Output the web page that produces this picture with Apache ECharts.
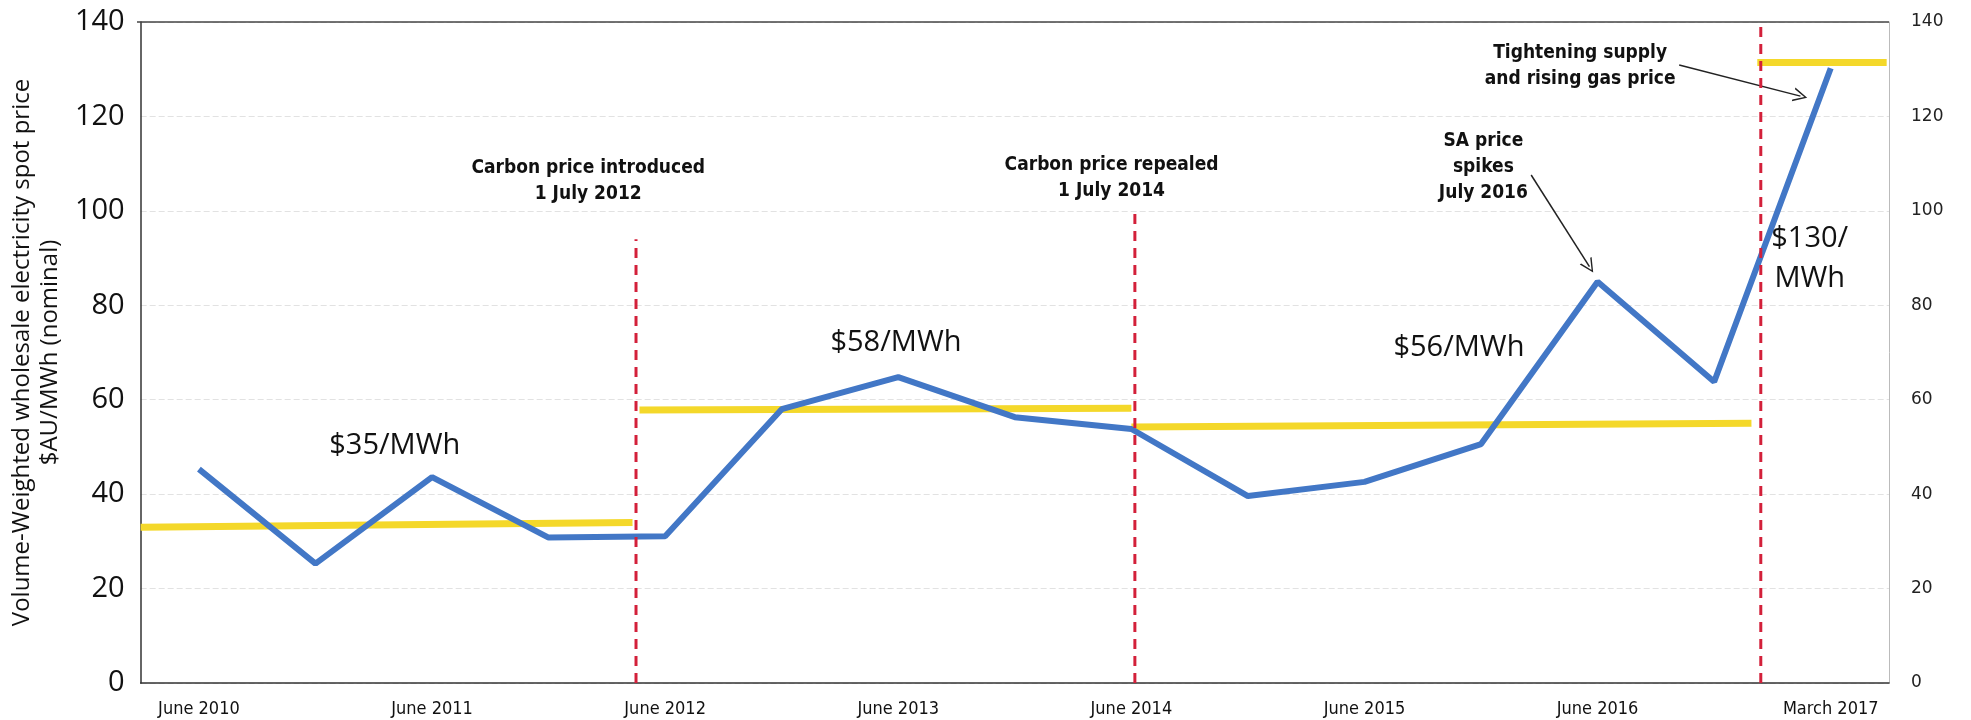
<!DOCTYPE html>
<html>
<head>
<meta charset="utf-8">
<script src="https://cdn.jsdelivr.net/npm/echarts@6/dist/echarts.min.js"></script>
<style>
  html, body { margin: 0; padding: 0; background: #fff; }
  #chart { width: 1971px; height: 720px; }
</style>
</head>
<body>
<div id="chart"></div>
<script>
// half-yearly points, last one is March 2017
const categories = ['June 2010', 'Dec 2010', 'June 2011', 'Dec 2011', 'June 2012', 'Dec 2012', 'June 2013',
  'Dec 2013', 'June 2014', 'Dec 2014', 'June 2015', 'Dec 2015', 'June 2016', 'Dec 2016', 'March 2017'];
const spotPrice = [45.3, 25.3, 43.6, 30.8, 31.1, 58.0, 64.8, 56.3, 53.8, 39.6, 42.6, 50.6, 85.0, 63.8, 130.2];

// period averages (yellow), x in category units on the hidden value axis
const avgStartX = [0, 4.28, 8.5, 13.87];
const avgEndX = [4.22, 8.5, 13.82, 14.98];
const avgStartValue = [33.0, 57.8, 54.2, 131.4];
const avgEndValue = [34.0, 58.2, 55.0, 131.4];

// red dashed event markers
const eventX = [4.25, 8.53, 13.9];
const eventTop = [94, 100, 140];

const priceLabels = ['$35/MWh', '$58/MWh', '$56/MWh', '$130/\nMWh'];
const priceLabelX = [2.18, 6.48, 11.31, 14.32];
const priceLabelY = [50.2, 72, 71, 89.8];

const eventLabels = ['Carbon price introduced\n1 July 2012', 'Carbon price repealed\n1 July 2014',
  'SA price\nspikes\nJuly 2016', 'Tightening supply\nand rising gas price'];
const eventLabelX = [3.84, 8.33, 11.52, 12.35];
const eventLabelY = [106.4, 107.0, 109.2, 130.6];

// arrows: [fromX, fromY, toX, toY]
const arrows = [[11.93, 107.6, 12.43, 88.2], [13.2, 130.9, 14.24, 124.3]];

const chart = echarts.init(document.getElementById('chart'));

const series = [];
series.push({
  type: 'line',
  data: spotPrice,
  xAxisIndex: 0,
  yAxisIndex: 0,
  symbol: 'none',
  lineStyle: { color: '#4277c6', width: 6 },
  z: 4
});
avgStartX.forEach((x, i) => {
  series.push({
    type: 'line',
    xAxisIndex: 1,
    yAxisIndex: 0,
    data: [[x, avgStartValue[i]], [avgEndX[i], avgEndValue[i]]],
    symbol: 'none',
    lineStyle: { color: '#f4d82a', width: 7 },
    z: 3
  });
});
eventX.forEach((x, i) => {
  series.push({
    type: 'line',
    xAxisIndex: 1,
    yAxisIndex: 0,
    data: [[x, 0], [x, eventTop[i]]],
    symbol: 'none',
    lineStyle: { color: '#d3203a', width: 3, type: [10, 7] },
    z: 5
  });
});
series.push({
  type: 'scatter',
  xAxisIndex: 1,
  yAxisIndex: 0,
  symbolSize: 0,
  itemStyle: { opacity: 1 },
  data: priceLabels.map((t, i) => ({ name: t, value: [priceLabelX[i], priceLabelY[i]] })),
  label: {
    show: true,
    position: 'inside',
    formatter: p => p.name,
    fontFamily: 'Open Sans',
    fontSize: 29,
    lineHeight: 40,
    color: '#111',
    opacity: 1,
    textBorderWidth: 0
  },
  z: 6
});
series.push({
  type: 'scatter',
  xAxisIndex: 1,
  yAxisIndex: 0,
  symbolSize: 0,
  itemStyle: { opacity: 1 },
  data: eventLabels.map((t, i) => ({ name: t, value: [eventLabelX[i], eventLabelY[i]] })),
  label: {
    show: true,
    position: 'inside',
    formatter: p => p.name,
    fontFamily: 'Liberation Sans Narrow, DejaVu Sans Condensed, sans-serif',
    fontWeight: 'bold',
    fontSize: 19,
    lineHeight: 26,
    color: '#111',
    opacity: 1,
    textBorderWidth: 0
  },
  markLine: {
    silent: true,
    symbol: ['none', 'path://M0,12 L6,0 L12,12 L10.6,12 L6,2.6 L1.4,12 Z'],
    symbolSize: [14, 14],
    label: { show: false },
    lineStyle: { color: '#222', width: 1.5, type: 'solid', opacity: 1 },
    data: arrows.map(a => [{ coord: [a[0], a[1]] }, { coord: [a[2], a[3]] }])
  },
  z: 6
});

const option = {
  animation: false,
  grid: { left: 137, right: 82, top: 22, bottom: 37 },
  xAxis: [
    {
      type: 'category',
      data: categories,
      boundaryGap: true,
      axisLine: { lineStyle: { color: '#333', width: 1.5 } },
      axisTick: { show: false },
      axisLabel: {
        interval: (idx) => idx % 2 === 0,
        margin: 17,
        fontFamily: 'Liberation Sans Narrow, DejaVu Sans Condensed, sans-serif',
        fontSize: 18,
        color: '#111'
      },
      splitLine: { show: false }
    },
    {
      type: 'value',
      min: 0,
      max: 15,
      show: false
    }
  ],
  yAxis: [
    {
      type: 'value',
      min: 0,
      max: 140,
      interval: 20,
      name: 'Volume-Weighted wholesale electricity spot price\n$AU/MWh (nominal)',
      nameLocation: 'middle',
      nameRotate: 90,
      nameGap: 67,
      nameTextStyle: { fontFamily: 'Open Sans', fontSize: 24, lineHeight: 28, color: '#111' },
      axisLine: { show: true, lineStyle: { color: '#333', width: 1.5 } },
      axisTick: { show: false },
      axisLabel: { fontFamily: 'Open Sans', fontSize: 29, margin: 16, color: '#111' },
      splitLine: { lineStyle: { color: '#e2e2e2', type: [6, 3] } }
    },
    {
      type: 'value',
      min: 0,
      max: 140,
      interval: 20,
      position: 'right',
      axisLine: { show: true, lineStyle: { color: '#bbb', width: 1 } },
      axisTick: { show: false },
      axisLabel: { fontFamily: 'DejaVu Sans', fontSize: 17, margin: 22, color: '#222' },
      splitLine: { show: false }
    }
  ],
  graphic: [
    // top border of the plot area
    { type: 'line', z: 100, shape: { x1: 137, y1: 22, x2: 1889, y2: 22 }, style: { stroke: '#444', lineWidth: 1.5 } }
  ],
  series: series
};

chart.setOption(option);
</script>
</body>
</html>
